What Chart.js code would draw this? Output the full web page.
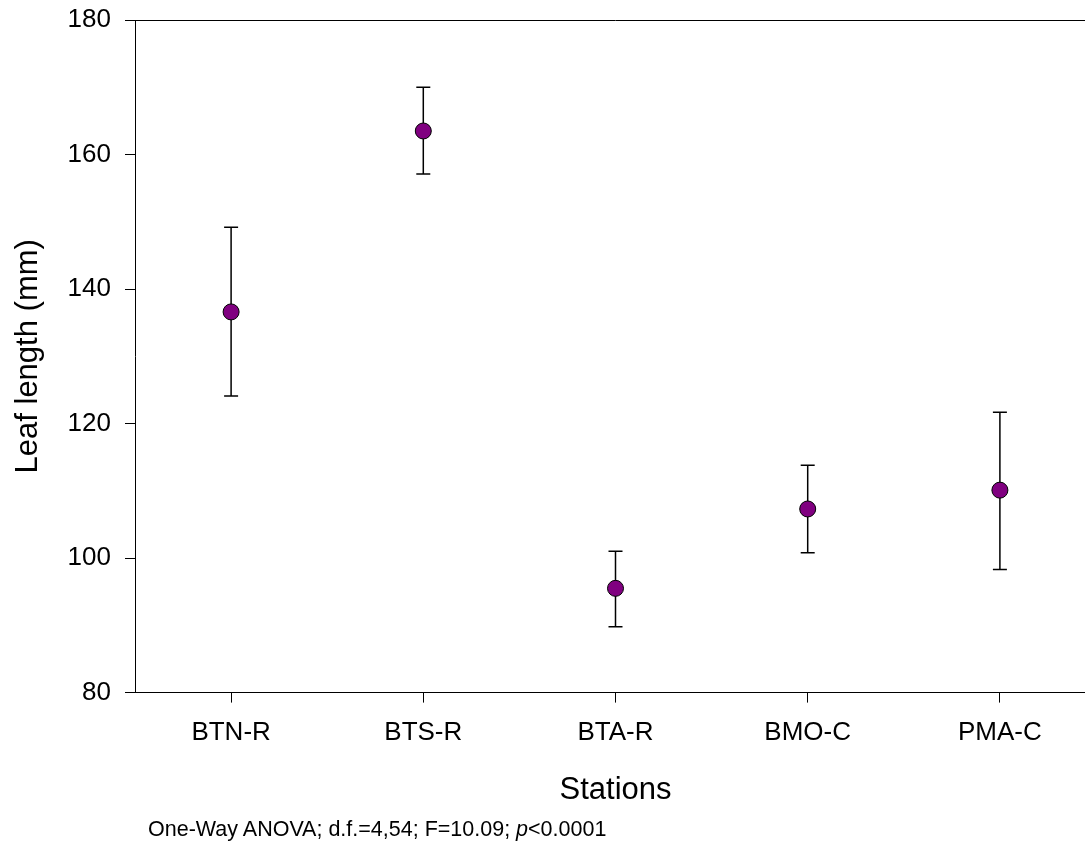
<!DOCTYPE html>
<html>
<head>
<meta charset="utf-8">
<script src="https://cdn.jsdelivr.net/npm/chart.js@4"></script>
<style>
  html, body { margin: 0; padding: 0; background: #fff; overflow: hidden; }
  #wrap { position: relative; width: 1085px; height: 846px; overflow: hidden; }
  #note { position: absolute; left: 148px; top: 817px; font: 21.5px 'Liberation Sans', Arial, sans-serif; color: #000; white-space: nowrap; }
</style>
</head>
<body>
<div id="wrap">
  <canvas id="chart" width="1105" height="846"></canvas>
  <div id="note">One-Way ANOVA; d.f.=4,54; F=10.09; <i>p</i>&lt;0.0001</div>
</div>
<script>
'use strict';

// 観測点と平均値・誤差範囲
const stations = ['BTN-R', 'BTS-R', 'BTA-R', 'BMO-C', 'PMA-C'];
const means = [136.6, 163.5, 95.5, 107.3, 110.1];
const upper = [149.2, 170.0, 101.0, 113.8, 121.7];
const lower = [124.1, 157.1, 89.8, 100.8, 98.3];

Chart.defaults.font.family = "'Liberation Sans', Arial, sans-serif";
Chart.defaults.color = '#000';

// 誤差棒
const errorBars = {
	id: 'errorBars',
	beforeDatasetsDraw(chart) {
		const ctx = chart.ctx;
		const x = chart.scales.x;
		const y = chart.scales.y;
		ctx.save();
		ctx.strokeStyle = '#000';
		ctx.lineWidth = 1.5;
		for (let i = 0; i < stations.length; i++) {
			const px = x.getPixelForValue(i);
			const top = y.getPixelForValue(upper[i]);
			const bot = y.getPixelForValue(lower[i]);
			ctx.beginPath();
			ctx.moveTo(px, top);
			ctx.lineTo(px, bot);
			ctx.moveTo(px - 7, top);
			ctx.lineTo(px + 7, top);
			ctx.moveTo(px - 7, bot);
			ctx.lineTo(px + 7, bot);
			ctx.stroke();
		}
		ctx.restore();
	}
};

// 枠線
const frame = {
	id: 'frame',
	afterDraw(chart) {
		const a = chart.chartArea;
		const ctx = chart.ctx;
		ctx.save();
		ctx.strokeStyle = '#000';
		ctx.lineWidth = 1;
		ctx.beginPath();
		ctx.moveTo(a.left, a.top + 0.5);
		ctx.lineTo(a.right, a.top + 0.5);
		ctx.stroke();
		ctx.restore();
	}
};

new Chart(document.getElementById('chart'), {
	type: 'line',
	data: {
		labels: stations,
		datasets: [{
			data: means,
			showLine: false,
			pointRadius: 8,
			pointHoverRadius: 8,
			pointBorderWidth: 1,
			pointBackgroundColor: '#800080',
			pointBorderColor: '#000',
		}],
	},
	options: {
		responsive: false,
		animation: false,
		layout: { padding: { top: 20, right: 5, left: 0, bottom: 37 } },
		plugins: { legend: { display: false }, tooltip: { enabled: false } },
		scales: {
			x: {
				offset: true,
				grid: { drawOnChartArea: false, drawTicks: true, tickLength: 10, color: '#000' },
				border: { color: '#000', width: 1 },
				ticks: { font: { size: 26 }, padding: 15, maxRotation: 0 },
				title: { display: true, text: 'Stations', font: { size: 31 }, padding: { top: 8, bottom: 0 } },
			},
			y: {
				min: 80,
				max: 180,
				afterFit(scale) {
					scale.width = 135;
					scale.paddingTop = 0;
					scale.paddingBottom = 0;
				},
				grid: { drawOnChartArea: false, drawTicks: true, tickLength: 10, color: '#000' },
				border: { color: '#000', width: 1 },
				ticks: { stepSize: 20, font: { size: 26 }, padding: 14 },
				title: { display: true, text: 'Leaf length (mm)', font: { size: 31 }, padding: { top: 10, bottom: 0 } },
			},
		},
	},
	plugins: [errorBars, frame],
});
</script>
</body>
</html>
